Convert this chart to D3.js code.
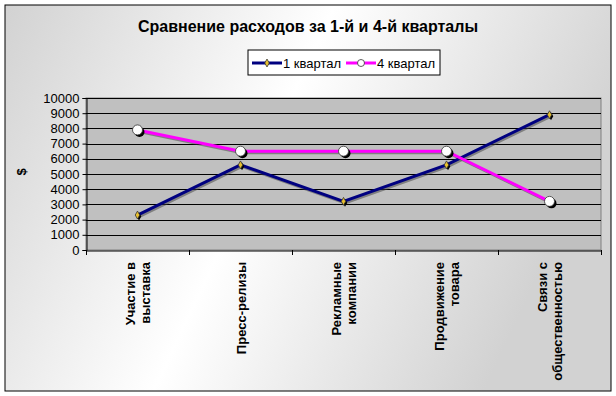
<!DOCTYPE html>
<html>
<head>
<meta charset="utf-8">
<script src="https://cdn.jsdelivr.net/npm/d3@7"></script>
<style>
  body { margin: 0; background: #fff; }
  text { font-family: "Liberation Sans", Arial, sans-serif; }
</style>
</head>
<body>
<div id="chart"></div>
<script>
var categories = ["Участие в|выставка", "Пресс-релизы", "Рекламные|компании", "Продвижение|товара", "Связи с|общественностью"];
var q1_values = [2300, 5600, 3200, 5600, 8900];
var q4_values = [7900, 6500, 6500, 6500, 3200];
var y_ticks = [0, 1000, 2000, 3000, 4000, 5000, 6000, 7000, 8000, 9000, 10000];
var series_names = ["1 квартал", "4 квартал"];

var width = 616, height = 396;
var plot = { left: 86, right: 601, top: 98, bottom: 250 };

var svg = d3.select("#chart").append("svg")
    .attr("width", width)
    .attr("height", height);

//////////// BACKGROUND ////////////
var defs = svg.append("defs");
var grad = defs.append("linearGradient")
    .attr("id", "bg")
    .attr("x1", "0%").attr("y1", "0%")
    .attr("x2", "100%").attr("y2", "30%");
grad.append("stop").attr("offset", "0%").attr("stop-color", "#d2d2d2");
grad.append("stop").attr("offset", "50%").attr("stop-color", "#ffffff");
grad.append("stop").attr("offset", "100%").attr("stop-color", "#d2d2d2");

svg.append("rect")
    .attr("x", 5).attr("y", 5)
    .attr("width", 606).attr("height", 386)
    .attr("fill", "url(#bg)")
    .attr("stroke", "#000")
    .attr("stroke-width", 1);

//////////// SCALES ////////////
var x = d3.scaleBand()
    .domain(d3.range(categories.length))
    .range([plot.left, plot.right]);

var y = d3.scaleLinear()
    .domain([0, 10000])
    .range([plot.bottom, plot.top]);

svg.append("rect")
    .attr("x", plot.left).attr("y", plot.top)
    .attr("width", plot.right - plot.left)
    .attr("height", plot.bottom - plot.top)
    .attr("fill", "#c0c0c0")
    .attr("stroke", "#808080");

// gridlines
svg.append("g").selectAll("line")
    .data(y_ticks.slice(1))
    .enter().append("line")
    .attr("x1", plot.left).attr("x2", plot.right)
    .attr("y1", function(d) { return Math.round(y(d)) + 0.5; })
    .attr("y2", function(d) { return Math.round(y(d)) + 0.5; })
    .attr("stroke", "#000");

//////////// AXES ////////////
var yAxis = svg.append("g")
    .attr("transform", "translate(" + (plot.left + 0.5) + ",0)")
    .call(d3.axisLeft(y).tickValues(y_ticks).tickSize(4).tickPadding(3).tickFormat(d3.format("d")));
yAxis.select(".domain").attr("stroke", "#000");
yAxis.selectAll("text").attr("font-size", 13).attr("fill", "#000")
    .style("font-family", "Liberation Sans, Arial, sans-serif");

var xAxis = svg.append("g")
    .attr("transform", "translate(0," + (plot.bottom + 0.5) + ")")
    .call(d3.axisBottom(x).tickSize(0).tickFormat(""));
xAxis.select(".domain").attr("stroke", "#000");

// category ticks between bands
svg.append("g").selectAll("line")
    .data(d3.range(categories.length + 1))
    .enter().append("line")
    .attr("x1", function(i) { return Math.round(plot.left + i * x.step()) + 0.5; })
    .attr("x2", function(i) { return Math.round(plot.left + i * x.step()) + 0.5; })
    .attr("y1", plot.bottom)
    .attr("y2", plot.bottom + 5)
    .attr("stroke", "#000");

// category labels (rotated, right-aligned to the axis)
var labels = svg.append("g").selectAll("text")
    .data(categories)
    .enter().append("text")
    .attr("transform", function(d, i) {
        return "translate(" + (x(i) + x.bandwidth() / 2) + ",262) rotate(-90)";
    })
    .attr("text-anchor", "end")
    .attr("font-size", 13)
    .attr("font-weight", "bold");

labels.each(function(d) {
    var lines = d.split("|");
    var t = d3.select(this);
    var off = -(lines.length - 1) * 15 / 2;
    lines.forEach(function(l, k) {
        t.append("tspan")
            .attr("x", 0)
            .attr("y", off + k * 15 + 5)
            .text(l);
    });
});

svg.append("text")
    .attr("transform", "translate(26,172) rotate(-90)")
    .attr("text-anchor", "middle")
    .attr("font-size", 13)
    .attr("font-weight", "bold")
    .text("$");

//////////// TITLE ////////////
svg.append("text")
    .attr("x", 308).attr("y", 32)
    .attr("text-anchor", "middle")
    .attr("font-size", 16)
    .attr("font-weight", "bold")
    .text("Сравнение расходов за 1-й и 4-й кварталы");

//////////// LINES ////////////
var cx = function(d, i) { return x(i) + x.bandwidth() / 2; };
var line = d3.line()
    .x(cx)
    .y(function(d) { return y(d); });

function drawSeries(vals, color) {
    // shadow
    svg.append("path").datum(vals)
        .attr("d", line)
        .attr("transform", "translate(1.5,1.5)")
        .attr("fill", "none")
        .attr("stroke", "#404040")
        .attr("stroke-opacity", 0.5)
        .attr("stroke-width", 3);
    svg.append("path").datum(vals)
        .attr("d", line)
        .attr("fill", "none")
        .attr("stroke", color)
        .attr("stroke-width", 3);
}
drawSeries(q1_values, "#000080");
drawSeries(q4_values, "#ff00ff");

// q1 diamonds
var diamond = d3.symbol().type(d3.symbolDiamond).size(18);
svg.append("g").selectAll("path")
    .data(q1_values)
    .enter().append("path")
    .attr("d", diamond)
    .attr("transform", function(d, i) { return "translate(" + (cx(d, i) + 1.5) + "," + (y(d) + 1.5) + ")"; })
    .attr("fill", "#000");
svg.append("g").selectAll("path")
    .data(q1_values)
    .enter().append("path")
    .attr("d", diamond)
    .attr("transform", function(d, i) { return "translate(" + cx(d, i) + "," + y(d) + ")"; })
    .attr("fill", "#e8c030")
    .attr("stroke", "#333")
    .attr("stroke-width", 0.8);

// q4 circles
svg.append("g").selectAll("circle")
    .data(q4_values)
    .enter().append("circle")
    .attr("cx", function(d, i) { return cx(d, i) + 2; })
    .attr("cy", function(d) { return y(d) + 2; })
    .attr("r", 5)
    .attr("fill", "#000");
svg.append("g").selectAll("circle.m")
    .data(q4_values)
    .enter().append("circle")
    .attr("class", "m")
    .attr("cx", function(d, i) { return cx(d, i); })
    .attr("cy", function(d) { return y(d); })
    .attr("r", 5)
    .attr("fill", "#fff")
    .attr("stroke", "#333")
    .attr("stroke-width", 0.8);

//////////// LEGEND ////////////
var lg = svg.append("g").attr("transform", "translate(248,50)");
lg.append("rect")
    .attr("width", 192).attr("height", 25)
    .attr("fill", "#fff")
    .attr("stroke", "#000");

var items = lg.selectAll("g.item")
    .data(series_names)
    .enter().append("g")
    .attr("class", "item")
    .attr("transform", function(d, i) { return "translate(" + (4 + i * 94) + ",13)"; });

items.append("line")
    .attr("x1", 0).attr("x2", 30)
    .attr("stroke", function(d, i) { return i === 0 ? "#000080" : "#ff00ff"; })
    .attr("stroke-width", 3);
items.each(function(d, i) {
    var g = d3.select(this);
    if (i === 0) {
        g.append("path").attr("d", diamond).attr("transform", "translate(15,0)")
            .attr("fill", "#e8c030").attr("stroke", "#333").attr("stroke-width", 0.8);
    } else {
        g.append("circle").attr("cx", 15).attr("r", 3.5)
            .attr("fill", "#fff").attr("stroke", "#333").attr("stroke-width", 0.8);
    }
});
items.append("text")
    .attr("x", 31).attr("y", 5)
    .attr("font-size", 13)
    .text(function(d) { return d; });
</script>
</body>
</html>
